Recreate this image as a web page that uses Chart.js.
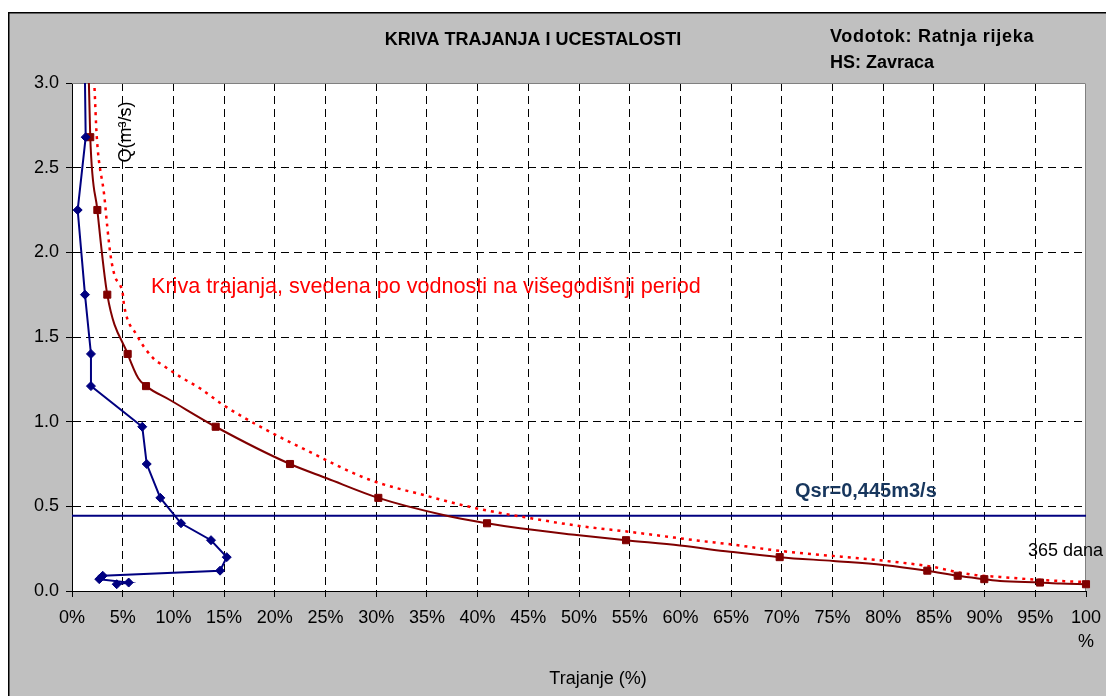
<!DOCTYPE html>
<html>
<head>
<meta charset="utf-8">
<title>Kriva trajanja i ucestalosti</title>
<script src="https://cdn.jsdelivr.net/npm/chart.js@4.4.1/dist/chart.umd.min.js"></script>
<style>
  html, body { margin: 0; padding: 0; background: #fff; }
  #wrap { width: 1106px; height: 696px; }
</style>
</head>
<body>
<div id="wrap"><canvas id="chart" width="1106" height="696"></canvas></div>
<script>
// Kriva trajanja i učestalosti — Ratnja rijeka, HS Zavraca
// x = trajanje (%), y = Q (m3/s). Points above 3.0 only carry a line off the top edge.

// ── Data ─────────────────────────────────────────────────
const ucestalostX = [1.15, 1.35, 0.56, 1.28, 1.87, 1.87, 6.93, 7.37, 8.71, 10.75, 13.71, 15.26, 14.60, 3.03, 2.69, 5.59, 4.41];
const ucestalostY = [3.60, 2.68, 2.25, 1.75, 1.40, 1.21, 0.97, 0.75, 0.55, 0.40, 0.30, 0.20, 0.12, 0.09, 0.07, 0.05, 0.04];

const trajanjeX = [1.80, 2.50, 3.48, 5.49, 7.30, 14.17, 21.50, 30.21, 40.93, 54.64, 69.79, 84.35, 87.35, 89.97, 95.46, 100];
const trajanjeY = [2.68, 2.25, 1.75, 1.40, 1.21, 0.97, 0.75, 0.55, 0.40, 0.30, 0.20, 0.12, 0.09, 0.07, 0.05, 0.04];

// smoothed duration line (passes the markers, plus bends between them)
const trajLineX = [1.55, 1.80, 2.50, 3.48, 5.49, 6.54, 7.30, 9.66, 14.17, 21.50, 25.12, 30.21, 36.62, 40.93, 44.18, 49.77, 54.64, 59.96, 64.89, 69.79, 75.08, 80.00, 84.35, 87.35, 89.97, 91.52, 95.46, 97.44, 100];
const trajLineY = [3.30, 2.68, 2.25, 1.75, 1.40, 1.256, 1.21, 1.128, 0.97, 0.75, 0.666, 0.55, 0.449, 0.40, 0.370, 0.331, 0.30, 0.268, 0.232, 0.20, 0.177, 0.154, 0.12, 0.09, 0.07, 0.059, 0.05, 0.044, 0.04];

// duration curve reduced to the multi-year period (dotted)
const svedenaX = [1.97, 2.20, 2.44, 3.19, 3.48, 3.82, 4.24, 4.73, 5.00, 5.13, 6.38, 8.02, 8.91, 10.65, 12.62, 14.92, 19.20, 22.75, 29.22, 34.98, 39.81, 45.00, 50.03, 55.03, 61.83, 64.89, 69.79, 80.35, 84.94, 87.25, 89.22, 91.52, 96.12, 100];
const svedenaY = [3.30, 3.00, 2.685, 2.33, 2.15, 1.975, 1.856, 1.808, 1.759, 1.69, 1.512, 1.374, 1.335, 1.266, 1.197, 1.098, 0.95, 0.842, 0.66, 0.562, 0.489, 0.432, 0.384, 0.349, 0.297, 0.276, 0.237, 0.177, 0.142, 0.112, 0.093, 0.083, 0.063, 0.053];

const qsr = 0.445;
const qsrX = [0, 100];
const qsrY = [qsr, qsr];

const xTicks = { min: 0, max: 100, step: 5 };
const yTicks = { min: 0, max: 3, step: 0.5 };

// ── Chart ────────────────────────────────────────────────
const FONT = '"Liberation Sans", Arial, sans-serif';
const pts = (xs, ys) => xs.map((x, i) => ({ x, y: ys[i] }));

const frame = {
  id: 'frame',
  beforeDraw(chart) {
    const { ctx, width, height, chartArea: a } = chart;
    ctx.save();
    ctx.fillStyle = '#fff';
    ctx.fillRect(0, 0, width, height);
    ctx.fillStyle = '#c0c0c0';
    ctx.fillRect(8, 12, width - 8, height - 12);
    ctx.strokeStyle = '#000';
    ctx.lineWidth = 1.5;
    ctx.beginPath();
    ctx.moveTo(8.75, height); ctx.lineTo(8.75, 12.75); ctx.lineTo(width, 12.75);
    ctx.stroke();
    ctx.fillStyle = '#fff';
    ctx.fillRect(a.left, a.top, a.right - a.left, a.bottom - a.top);
    ctx.restore();
  },
  beforeDatasetsDraw(chart) {
    const { ctx, chartArea: a } = chart;
    ctx.save();
    ctx.strokeStyle = '#808080';
    ctx.lineWidth = 1;
    ctx.beginPath();
    ctx.moveTo(a.left, a.top + 0.5); ctx.lineTo(a.right - 0.5, a.top + 0.5); ctx.lineTo(a.right - 0.5, a.bottom);
    ctx.stroke();
    ctx.restore();
  },
  afterDraw(chart) {
    const { ctx } = chart;
    ctx.save();
    ctx.textBaseline = 'middle';
    ctx.fillStyle = '#000';
    ctx.font = 'bold 18px ' + FONT;
    ctx.textAlign = 'center';
    ctx.fillText('KRIVA TRAJANJA I UCESTALOSTI', 533, 40);
    ctx.textAlign = 'left';
    ctx.fillText('HS: Zavraca', 830, 63);
    ctx.letterSpacing = '0.7px';
    ctx.fillText('Vodotok: Ratnja rijeka', 830, 37);
    ctx.letterSpacing = '0px';

    ctx.font = '18px ' + FONT;
    ctx.textAlign = 'center';
    ctx.fillText('Trajanje (%)', 598, 679);
    ctx.textAlign = 'left';
    ctx.fillText('365 dana', 1028, 551);

    ctx.save();
    ctx.translate(126, 132);
    ctx.rotate(-Math.PI / 2);
    ctx.textAlign = 'center';
    ctx.fillText('Q(m³/s)', 0, 0);
    ctx.restore();

    ctx.fillStyle = '#ff0000';
    ctx.font = '21.6px ' + FONT;
    ctx.fillText('Kriva trajanja, svedena po vodnosti na višegodišnji period', 151, 287);

    ctx.fillStyle = '#17365d';
    ctx.font = 'bold 20px ' + FONT;
    ctx.fillText('Qsr=0,445m3/s', 795, 491);
    ctx.restore();
  }
};

const gridColor = (lo, hi) => c => (c.tick && (c.tick.value === lo || c.tick.value === hi)) ? 'rgba(0,0,0,0)' : '#000';

new Chart(document.getElementById('chart'), {
  type: 'scatter',
  data: {
    datasets: [
      { label: 'Učestalost', data: pts(ucestalostX, ucestalostY), showLine: true, tension: 0,
        borderColor: '#000080', backgroundColor: '#000080', borderWidth: 2,
        pointStyle: 'rectRot', pointRadius: 4.5, pointBorderWidth: 1 },
      { label: 'Trajanje', data: pts(trajanjeX, trajanjeY), showLine: false, clip: false,
        borderColor: '#800000', backgroundColor: '#800000',
        pointStyle: 'rect', pointRadius: 5, pointBorderWidth: 1 },
      { label: 'Trajanje linija', data: pts(trajLineX, trajLineY), showLine: true,
        cubicInterpolationMode: 'monotone', borderColor: '#800000', borderWidth: 2, pointRadius: 0 },
      { label: 'Svedena', data: pts(svedenaX, svedenaY), showLine: true,
        cubicInterpolationMode: 'monotone', borderColor: '#ff0000', borderWidth: 2.5,
        borderDash: [3, 5], pointRadius: 0 },
      { label: 'Qsr', data: pts(qsrX, qsrY), showLine: true, borderColor: '#000080', borderWidth: 2, pointRadius: 0 },
    ],
  },
  options: {
    responsive: false,
    animation: false,
    events: [],
    layout: { padding: { left: 0, top: 83, right: 20, bottom: 0 } },
    plugins: { legend: { display: false }, tooltip: { enabled: false } },
    scales: {
      x: {
        type: 'linear', min: xTicks.min, max: xTicks.max,
        afterFit: s => { s.height = 105; s.paddingLeft = 0; s.paddingRight = 0; },
        ticks: { stepSize: xTicks.step, padding: 9, color: '#000', maxRotation: 0, autoSkip: false,
                 font: { family: FONT, size: 18, lineHeight: 1.333 },
                 callback: v => v === 100 ? ['100', '%'] : v + '%' },
        grid: { color: gridColor(xTicks.min, xTicks.max), lineWidth: 1, tickLength: 6, tickColor: '#000' },
        border: { display: true, color: '#000', width: 1, dash: [8, 5] },
      },
      y: {
        type: 'linear', min: yTicks.min, max: yTicks.max,
        afterFit: s => { s.width = 72; },
        ticks: { stepSize: yTicks.step, padding: 7, color: '#000',
                 font: { family: FONT, size: 18 },
                 callback: v => v.toFixed(1) },
        grid: { color: gridColor(yTicks.min, yTicks.max), lineWidth: 1, tickLength: 6, tickColor: '#000' },
        border: { display: true, color: '#000', width: 1, dash: [8, 5] },
      },
    },
  },
  plugins: [frame],
});
</script>
</body>
</html>
